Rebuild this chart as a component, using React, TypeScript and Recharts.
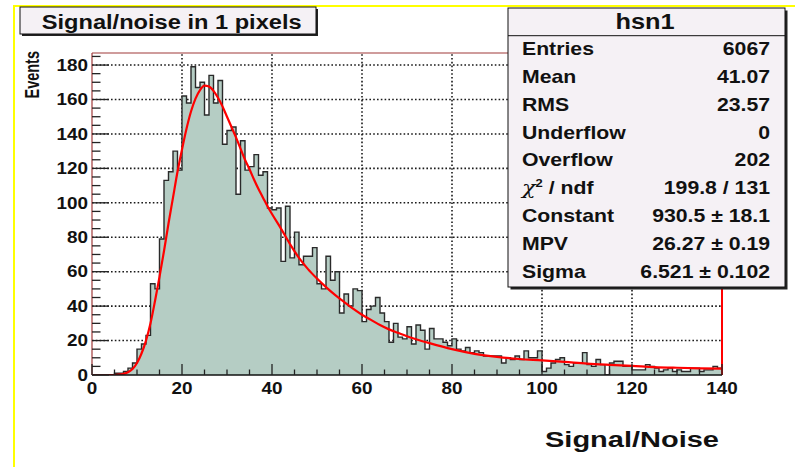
import React from 'react';
import { ComposedChart, Area, Line, XAxis, YAxis, ReferenceLine } from 'recharts';

// Histogram: counts per unit-wide bin, bins start at 0,1,2,...,139
const counts = [
  0, 0, 0, 0, 0, 1, 1, 2, 4, 7,
  15, 18, 23, 53, 50, 79, 113, 118, 130, 119,
  162, 158, 179, 167, 170, 151, 174, 158, 171, 134,
  142, 144, 105, 136, 119, 121, 128, 116, 118, 97,
  96, 97, 66, 98, 68, 83, 64, 69, 69, 74,
  53, 50, 69, 55, 60, 36, 47, 40, 50, 49,
  31, 38, 40, 45, 36, 31, 19, 30, 22, 21,
  28, 18, 29, 26, 15, 27, 21, 21, 19, 17,
  21, 15, 14, 16, 13, 14, 13, 11, 11, 11,
  11, 7, 10, 9, 11, 9, 14, 10, 10, 14,
  2, 4, 7, 9, 10, 6, 5, 7, 7, 13,
  6, 5, 9, 6, 0, 7, 8, 8, 5, 5,
  3, 3, 3, 6, 5, 4, 2, 3, 4, 2,
  3, 2, 2, 4, 4, 2, 3, 3, 5, 4,
];

// Landau fit curve
const fitX = [0, 5, 6, 7, 8, 9, 10, 11, 12, 13, 14, 15, 16, 17, 18, 19, 20, 21, 22, 23, 24, 25, 26, 27, 28, 29, 30, 31, 32, 33, 34, 35, 36, 37, 38, 39, 40, 42, 44, 46, 48, 50, 52, 54, 56, 58, 60, 62, 64, 66, 68, 70, 72, 75, 80, 85, 90, 95, 100, 105, 110, 115, 120, 125, 130, 135, 140];
const fitY = [0, 0, 0.2, 0.7, 1.6, 3.5, 7, 12.5, 20, 30, 43, 57, 72, 88, 103, 118, 131, 143, 153, 160.5, 165.5, 168, 167.5, 165, 161, 156, 150, 144, 138, 131.5, 125, 119.5, 113.5, 108, 103, 98, 93.5, 85, 76, 68, 61.5, 56, 51, 46.5, 42.5, 38.5, 35, 32, 29, 26.5, 24.5, 22.5, 20.8, 18.5, 15, 12.3, 10.5, 9.3, 8.5, 7.6, 6.6, 5.9, 5.3, 4.6, 4.2, 3.9, 3.7];

const xTickValues = [0, 5, 10, 15, 20, 25, 30, 35, 40, 45, 50, 55, 60, 65, 70, 75, 80, 85, 90, 95, 100, 105, 110, 115, 120, 125, 130, 135, 140];
const xTickLabels = [0, 20, 40, 60, 80, 100, 120, 140];
const yTickValues = [0, 5, 10, 15, 20, 25, 30, 35, 40, 45, 50, 55, 60, 65, 70, 75, 80, 85, 90, 95, 100, 105, 110, 115, 120, 125, 130, 135, 140, 145, 150, 155, 160, 165, 170, 175, 180, 185];
const yTickLabels = [0, 20, 40, 60, 80, 100, 120, 140, 160, 180];
const xGrid = [20, 40, 60, 80, 100, 120];
const yGrid = [20, 40, 60, 80, 100, 120, 140, 160, 180];
const X_MAX = 140;
const Y_MAX = 187;

const statsName = 'hsn1';
const statsLabels = ['Entries', 'Mean', 'RMS', 'Underflow', 'Overflow', 'CHI2', 'Constant', 'MPV', 'Sigma'];
const statsValues = ['6067', '41.07', '23.57', '0', '202', '199.8 / 131', '930.5 \u00b1 18.1', '26.27 \u00b1 0.19', '6.521 \u00b1 0.102'];

const titleText = 'Signal/noise in 1 pixels';
const xTitle = 'Signal/Noise';
const yTitle = 'Events';

const FONT = '"Liberation Sans", Arial, Helvetica, sans-serif';
const SX = 1.18;
const FRAME = '#a03a3a';
const BOXBG = '#f5f1f5';
const GRID = '#1a1a1a';

const histData = counts.map((c, i) => ({ x: i, h: c })).concat([{ x: counts.length, h: counts[counts.length - 1] }]);
const fitData = fitX.map((x, i) => ({ x, f: fitY[i] }));

function XTick(props: any) {
  const { x, y, payload } = props;
  const v = payload.value;
  const major = xTickLabels.includes(v);
  return (
    <g>
      <line x1={x} x2={x} y1={y} y2={y - (major ? 11 : 5.5)} stroke="#222" strokeWidth={1.3} />
      {major && (
        <text transform={`translate(${x},${y + 19}) scale(${SX},1)`} textAnchor="middle" fontFamily={FONT} fontWeight="bold" fontSize={16} fill="#111">
          {v}
        </text>
      )}
    </g>
  );
}

function YTick(props: any) {
  const { x, y, payload } = props;
  const v = payload.value;
  const major = yTickLabels.includes(v);
  return (
    <g>
      <line x1={x} x2={x + (major ? 17 : 8.5)} y1={y} y2={y} stroke="#222" strokeWidth={1.3} />
      {major && (
        <text transform={`translate(${x - 4},${y + 5.7}) scale(${SX},1)`} textAnchor="end" fontFamily={FONT} fontWeight="bold" fontSize={16} fill="#111">
          {v}
        </text>
      )}
    </g>
  );
}

function StatsLabel({ label, y }: { label: string; y: number }) {
  if (label === 'CHI2') {
    return (
      <text transform={`translate(522,${y}) scale(${SX},1)`} fontFamily={FONT} fontWeight="bold" fontSize={18} fill="#111">
        <tspan fontFamily="'DejaVu Serif', serif" fontStyle="italic" fontWeight="normal" fontSize={19}>{'\u03c7'}</tspan>
        <tspan dy={-7} fontSize={11}>2</tspan>
        <tspan dy={7}>{' / ndf'}</tspan>
      </text>
    );
  }
  return (
    <text transform={`translate(522,${y}) scale(${SX},1)`} fontFamily={FONT} fontWeight="bold" fontSize={18} fill="#111">
      {label}
    </text>
  );
}

export default function App() {
  return (
    <div style={{ position: 'absolute', left: 0, top: 0, width: 795, height: 467, background: '#fff', overflow: 'hidden' }}>
      <ComposedChart width={795} height={467} margin={{ top: 53, right: 73, bottom: 62, left: 32 }}>
        <XAxis
          type="number"
          dataKey="x"
          domain={[0, X_MAX]}
          ticks={xTickValues}
          interval={0}
          allowDataOverflow
          height={30}
          tickSize={0}
          tickMargin={0}
          tickLine={false}
          tick={<XTick />}
          axisLine={{ stroke: '#111', strokeWidth: 1.6 }}
          zIndex={1200}
        />
        <YAxis
          type="number"
          domain={[0, Y_MAX]}
          ticks={yTickValues}
          interval={0}
          allowDataOverflow
          width={60}
          tickSize={0}
          tickMargin={0}
          tickLine={false}
          tick={<YTick />}
          axisLine={{ stroke: FRAME, strokeWidth: 1.2 }}
          zIndex={1200}
        />
        {yGrid.map((v) => (
          <ReferenceLine key={'gy' + v} y={v} stroke={GRID} strokeWidth={1.6} strokeDasharray="1.6 2.2" />
        ))}
        {xGrid.map((v) => (
          <ReferenceLine key={'gx' + v} x={v} stroke={GRID} strokeWidth={1.6} strokeDasharray="1.6 2.2" />
        ))}
        <Area
          data={histData}
          dataKey="h"
          type="stepAfter"
          fill="#b5cdc4"
          fillOpacity={1}
          stroke="#2a2a2a"
          strokeWidth={1.4}
          dot={false}
          activeDot={false}
          isAnimationActive={false}
          zIndex={600}
        />
        <Line
          data={fitData}
          dataKey="f"
          type="monotone"
          stroke="#ff0000"
          strokeWidth={2.2}
          dot={false}
          activeDot={false}
          isAnimationActive={false}
          zIndex={1000}
        />
        <ReferenceLine y={Y_MAX} stroke={FRAME} strokeWidth={1.2} />
        <ReferenceLine segment={[{ x: X_MAX, y: 0 }, { x: X_MAX, y: Y_MAX }]} stroke="#ff0000" strokeWidth={2} zIndex={1000} />
      </ComposedChart>

      <svg width={795} height={467} style={{ position: 'absolute', left: 0, top: 0, pointerEvents: 'none' }}>
        <line x1={13} y1={6} x2={795} y2={6} stroke="#ffff00" strokeWidth={2} />
        <line x1={14} y1={5} x2={14} y2={467} stroke="#ffff00" strokeWidth={2} />

        <rect x={22} y={9} width={296} height={27} fill="#222" />
        <rect x={20} y={7} width={296} height={27} fill={BOXBG} stroke="#111" strokeWidth={1} />
        <text x={41.7} y={29.3} fontFamily={FONT} fontWeight="bold" fontSize={20} fill="#111" textLength={260} lengthAdjust="spacingAndGlyphs">
          {titleText}
        </text>

        <rect x={510.5} y={10.5} width={277} height={279} fill="#222" />
        <rect x={508} y={8} width={277} height={279} fill={BOXBG} stroke="#111" strokeWidth={1} />
        <line x1={508} y1={35.7} x2={785} y2={35.7} stroke="#111" strokeWidth={1} />
        <text transform={`translate(645,29) scale(${SX},1)`} textAnchor="middle" fontFamily={FONT} fontWeight="bold" fontSize={21.5} fill="#111">
          {statsName}
        </text>
        {statsLabels.map((l, i) => (
          <StatsLabel key={l} label={l} y={54.8 + 27.9 * i} />
        ))}
        {statsValues.map((v, i) => (
          <text key={i} transform={`translate(770,${54.8 + 27.9 * i}) scale(${SX},1)`} textAnchor="end" fontFamily={FONT} fontWeight="bold" fontSize={18} fill="#111">
            {v}
          </text>
        ))}

        <text x={545} y={446.5} fontFamily={FONT} fontWeight="bold" fontSize={22} fill="#111" textLength={174} lengthAdjust="spacingAndGlyphs">
          {xTitle}
        </text>
        <text transform="translate(39,51) rotate(-90) scale(1,1.35)" textAnchor="end" fontFamily={FONT} fontWeight="bold" fontSize={14.5} fill="#111">
          {yTitle}
        </text>
      </svg>
    </div>
  );
}
